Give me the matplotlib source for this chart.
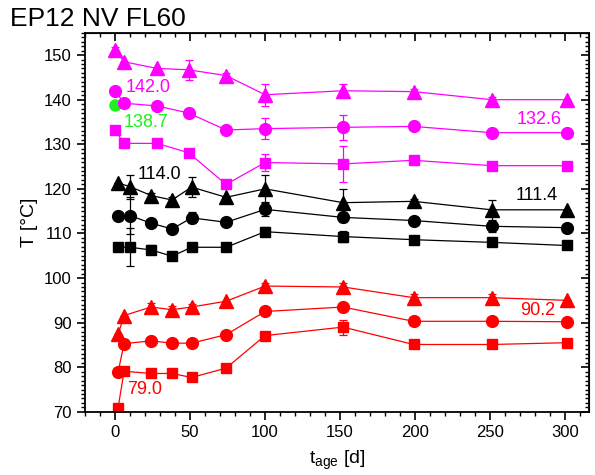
import numpy as np
import matplotlib
matplotlib.use("Agg")
import matplotlib.pyplot as plt
from matplotlib.ticker import MultipleLocator

# Datos
t_pink = [0, 6, 28, 49, 74, 100, 152, 199, 251, 301]
t_black = [2, 10, 24, 38, 51, 74, 100, 152, 199, 251, 301]
t_red = [2, 6, 24, 38, 51, 74, 100, 152, 199, 251, 301]

pink_tri = [151.2, 148.5, 147.0, 146.7, 145.4, 141.1, 142.0, 141.8, 140.0, 140.0]
pink_tri_err = [0.6, 0, 0, 2.3, 0.5, 2.5, 1.5, 0.5, 0.6, 0]
pink_cir = [142.0, 139.2, 138.6, 137.0, 133.2, 133.5, 133.8, 134.0, 132.6, 132.6]
pink_cir_err = [0, 0, 0, 1.0, 0, 2.3, 2.8, 0, 0, 0]
pink_sq = [133.1, 130.2, 130.2, 128.1, 121.0, 125.9, 125.6, 126.4, 125.2, 125.2]
pink_sq_err = [0.8, 0, 0, 0, 0, 2.0, 4.0, 0, 0, 0]

black_tri = [121.3, 120.5, 118.5, 117.5, 120.4, 118.1, 120.0, 116.9, 117.2, 115.3, 115.3]
black_tri_err = [0, 2.7, 0.5, 0.6, 2.3, 0, 3.0, 3.0, 0.5, 2.3, 0]
black_cir = [113.9, 114.0, 112.3, 111.0, 113.5, 112.5, 115.4, 113.6, 112.9, 111.6, 111.3]
black_cir_err = [0, 4.2, 0.8, 0.5, 1.2, 0, 1.5, 1.0, 0, 1.2, 0]
black_sq = [106.9, 106.9, 106.3, 104.9, 106.9, 106.9, 110.4, 109.3, 108.6, 108.0, 107.3]
black_sq_err = [0, 4.3, 1.0, 0.4, 0, 0, 1.0, 1.2, 0, 0, 0]

red_tri = [87.4, 91.6, 93.5, 92.9, 93.5, 94.8, 98.2, 98.0, 95.6, 95.6, 95.0]
red_tri_err = [0, 0, 0.8, 0.8, 0.6, 0, 0.8, 1.0, 0.8, 0.8, 0]
red_cir = [78.9, 85.3, 85.9, 85.4, 85.4, 87.3, 92.5, 93.5, 90.3, 90.3, 90.2]
red_sq = [70.9, 79.1, 78.6, 78.6, 77.7, 79.8, 87.1, 89.0, 85.1, 85.1, 85.5]
red_sq_err = [0, 0, 0, 0, 0, 0, 0, 1.7, 0, 0, 0]

green_t = [0]
green_T = [138.7]

# Etiquetas: (texto, x, y, color)
etiquetas = [
    ("142.0", 7, 142.7, "#ff00ff"),
    ("138.7", 6, 134.9, "#22ee22"),
    ("114.0", 15, 123.2, "black"),
    ("132.6", 268, 135.5, "#ff00ff"),
    ("111.4", 267, 118.4, "black"),
    ("90.2", 270, 92.7, "#ff0000"),
    ("79.0", 8, 75.0, "#ff0000"),
]

plt.rcParams["font.family"] = ["Liberation Sans", "DejaVu Sans"]

fig = plt.figure(figsize=(5.95, 4.75), dpi=100)
ax = fig.add_axes([0.143, 0.133, 0.847, 0.798])


def serie(t, y, err, color, marker, ms):
    ax.errorbar(t, y, yerr=err, color=color, marker=marker, ms=ms, lw=0.9,
                elinewidth=0.9, capsize=3, capthick=0.9, mec=color)


serie(t_pink, pink_tri, pink_tri_err, "#ff00ff", "^", 9.5)
serie(t_pink, pink_cir, pink_cir_err, "#ff00ff", "o", 8.5)
serie(t_pink, pink_sq, pink_sq_err, "#ff00ff", "s", 7.5)
serie(t_black, black_tri, black_tri_err, "black", "^", 9.5)
serie(t_black, black_cir, black_cir_err, "black", "o", 8.5)
serie(t_black, black_sq, black_sq_err, "black", "s", 7.5)
serie(t_red, red_tri, red_tri_err, "#ff0000", "^", 9.5)
serie(t_red, red_cir, None, "#ff0000", "o", 8.5)
serie(t_red, red_sq, red_sq_err, "#ff0000", "s", 7.5)
ax.plot(green_t, green_T, "o", color="#22ee22", ms=8)

for txt, x, y, c in etiquetas:
    ax.text(x, y, txt, color=c, fontsize=13, va="center", ha="left")

ax.set_xlim(-20, 316)
ax.set_ylim(70, 155)
ax.xaxis.set_major_locator(MultipleLocator(50))
ax.xaxis.set_minor_locator(MultipleLocator(10))
ax.yaxis.set_major_locator(MultipleLocator(10))
ax.yaxis.set_minor_locator(MultipleLocator(1))
ax.tick_params(which="both", direction="out", top=False, right=False, labelsize=12)
ax.tick_params(which="major", length=6, width=1.2)
ax.tick_params(which="minor", length=3, width=1)
for s in ax.spines.values():
    s.set_linewidth(1.3)

# ejes espejo con ticks hacia adentro
axt = ax.secondary_xaxis("top")
axt.xaxis.set_major_locator(MultipleLocator(50))
axt.xaxis.set_minor_locator(MultipleLocator(10))
axt.tick_params(which="both", direction="in", labeltop=False)
axt.tick_params(which="major", length=6, width=1.2)
axt.tick_params(which="minor", length=3, width=1)
axr = ax.secondary_yaxis("right")
axr.yaxis.set_major_locator(MultipleLocator(10))
axr.yaxis.set_minor_locator(MultipleLocator(1))
axr.tick_params(which="both", direction="in", labelright=False)
axr.tick_params(which="major", length=6, width=1.2)
axr.tick_params(which="minor", length=3, width=1)

ax.set_xlabel(r"t$_{\mathregular{age}}$ [d]", fontsize=14, labelpad=6)
ax.set_ylabel("T [°C]", fontsize=14)
fig.text(0.017, 0.985, "EP12 NV FL60", fontsize=19, ha="left", va="top")

fig.savefig("out.png", dpi=100)
